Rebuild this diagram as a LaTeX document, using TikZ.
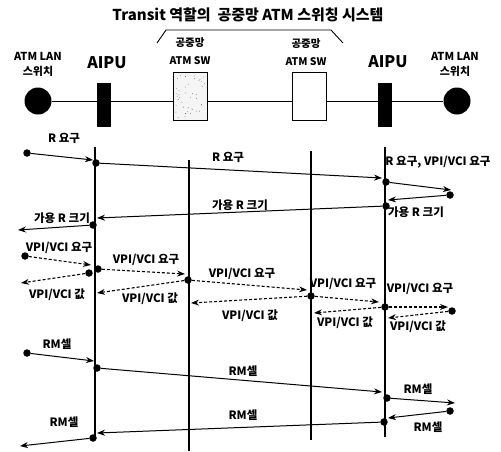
\documentclass[tikz,border=0pt]{standalone}
\usepackage{fontspec}
\setmainfont{Noto Sans CJK KR}
\usetikzlibrary{arrows.meta,calc}
\begin{document}
\begin{tikzpicture}[x=1pt,y=-1pt,
  dotn/.style={circle,fill=black,inner sep=0pt,minimum size=7.5pt},
  msg/.style={line width=1pt,-{Stealth[length=8pt,width=6pt]}},
  dmsg/.style={line width=1.1pt,dash pattern=on 3pt off 2pt,-{Stealth[length=8pt,width=6pt,line width=0pt,fill=black]}},
  life/.style={line width=1.4pt},
  lbl/.style={font=\fontsize{11.5}{12}\selectfont\bfseries,inner sep=0pt},
  toplbl/.style={font=\fontsize{11}{15}\selectfont\bfseries,inner sep=0pt,align=center},
  swlbl/.style={font=\fontsize{10.5}{18}\selectfont\bfseries,inner sep=0pt,align=center},
  aipu/.style={font=\fontsize{16}{18}\selectfont\bfseries,inner sep=0pt},
  term/.style={circle,fill=black,inner sep=0pt,minimum size=27pt},
  iwu/.style={rectangle,fill=black,inner sep=0pt,minimum width=14pt,minimum height=44pt},
  swbox/.style={rectangle,draw,line width=1pt,inner sep=0pt,minimum width=34pt,minimum height=48pt},
]
\useasboundingbox (0,0) rectangle (501,451);

% title and bracket
\node[font=\fontsize{15}{16}\selectfont\bfseries,inner sep=0pt] (title) at (248,15) {Transit 역할의\ \ 공중망 ATM 스위칭 시스템};
\draw[line width=0.9pt] (157,43) -- (166,30) -- (331,30) -- (343,43);

% top row
\node[term] (cl) at (38,101) {};
\node[term] (cr) at (457,101) {};
\node[iwu] (al) at (104,105) {};
\node[iwu] (ar) at (385,105) {};
\node[swbox,fill=gray!8] (s1) at (190.5,96) {};
\node[swbox,fill=white] (s2) at (309,96.5) {};
\pgfmathsetseed{7}
\foreach \i in {1,...,40} {
  \fill[black!70] ($(s1.south west)+(2+rnd*30,-2-rnd*44)$) circle (0.4pt);
}
\draw[line width=0.9pt] (cl.east) -- (al.west |- cl.east);
\draw[line width=0.9pt] (al.east |- cl.east) -- (s1.west |- cl.east);
\draw[line width=0.9pt] (s1.east |- cl.east) -- (s2.west |- cl.east);
\draw[line width=0.9pt] (s2.east |- cl.east) -- (ar.west |- cl.east);
\draw[line width=0.9pt] (ar.east |- cl.east) -- (cr.west);

\node[toplbl] (tl) at (38,64) {ATM LAN\\스위치};
\node[toplbl] (tr) at (455,64) {ATM LAN\\스위치};
\node[aipu] (pl) at (107,63) {AIPU};
\node[aipu] (pr) at (388,62) {AIPU};
\node[swlbl] (w1) at (190,51) {공중망\\ATM SW};
\node[swlbl] (w2) at (306,52) {공중망\\ATM SW};

% lifelines
\coordinate (L1t) at (95,147); \coordinate (L1b) at (95,438);
\coordinate (L2t) at (189,160); \coordinate (L2b) at (189,451);
\coordinate (L3t) at (311,151); \coordinate (L3b) at (311,440);
\coordinate (L4t) at (385,147); \coordinate (L4b) at (385,437);
\draw[life] (L1t) -- (L1b);
\draw[life] (L2t) -- (L2b);
\draw[life] (L3t) -- (L3b);
\draw[life] (L4t) -- (L4b);

% R request section
\node[dotn] (r1) at (27,153) {};
\coordinate (r1e) at (93,160);
\draw[msg] (r1) -- (r1e);
\node[lbl] (lr1) at (64,138) {R 요구};

\node[dotn] (r2) at (96,163) {};
\coordinate (r2e) at (382,178);
\draw[msg] (r2) -- (r2e);
\node[lbl] (lr2) at (228,157) {R 요구};

\node[dotn] (r3) at (386,182) {};
\coordinate (r3e) at (451,190);
\draw[msg] (r3) -- (r3e);
\node[lbl] (lr3) at (438,162) {R 요구, VPI/VCI 요구};

\node[dotn] (r4) at (450,195) {};
\coordinate (r4e) at (388,200);
\draw[msg] (r4) -- (r4e);
\node[lbl] (lr4) at (416,212) {가용 R 크기};

\node[dotn] (r5) at (386,206) {};
\coordinate (r5e) at (97,218);
\draw[msg] (r5) -- (r5e);
\node[lbl] (lr5) at (240,205) {가용 R 크기};

\node[dotn] (r6) at (93,225) {};
\coordinate (r6e) at (18,230);
\draw[msg] (r6) -- (r6e);
\node[lbl] (lr6) at (62,218) {가용 R 크기};

% VPI/VCI section
\node[dotn] (v1) at (25,256) {};
\coordinate (v1e) at (91,265);
\draw[dmsg] (v1) -- (v1e);
\node[lbl] (lv1) at (59,248) {VPI/VCI 요구};

\node[dotn] (v2) at (98,269) {};
\coordinate (v2e) at (185,274);
\draw[dmsg] (v2) -- (v2e);
\node[lbl] (lv2) at (146,260) {VPI/VCI 요구};

\node[dotn] (v3) at (89,273) {};
\coordinate (v3e) at (21,283);
\draw[dmsg] (v3) -- (v3e);
\node[lbl] (lv3) at (57,295) {VPI/VCI 값};

\node[dotn] (v4) at (188,280) {};
\coordinate (v4e) at (307,290);
\draw[dmsg] (v4) -- (v4e);
\node[lbl] (lv4) at (242,274) {VPI/VCI 요구};
\coordinate (v4r) at (97,293);
\draw[dmsg] (v4) -- (v4r);
\node[lbl] (lv4r) at (150,299) {VPI/VCI 값};

\node[dotn] (v5) at (311,296) {};
\coordinate (v5e) at (379,302);
\draw[dmsg] (v5) -- (v5e);
\node[lbl] (lv5) at (343,284) {VPI/VCI 요구};
\coordinate (v5r) at (191,303);
\draw[dmsg] (v5) -- (v5r);
\node[lbl] (lv5r) at (250,316) {VPI/VCI 값};

\node[dotn] (v6) at (385,307) {};
\coordinate (v6e) at (448,307);
\draw[dmsg] (v6) -- (v6e);
\node[lbl] (lv6) at (420,289) {VPI/VCI 요구};
\coordinate (v6r) at (314,313);
\draw[dmsg] (v6) -- (v6r);
\node[lbl] (lv6r) at (345,323) {VPI/VCI 값};

\node[dotn] (v7) at (452,311) {};
\coordinate (v7e) at (388,318);
\draw[dmsg] (v7) -- (v7e);
\node[lbl] (lv7) at (418,327) {VPI/VCI 값};

% RM cell section
\node[dotn] (m1) at (27,353) {};
\coordinate (m1e) at (94,361);
\draw[msg] (m1) -- (m1e);
\node[lbl] (lm1) at (57,344) {RM셀};

\node[dotn] (m2) at (97,368) {};
\coordinate (m2e) at (382,392);
\draw[msg] (m2) -- (m2e);
\node[lbl] (lm2) at (243,371) {RM셀};

\node[dotn] (m3) at (387,398) {};
\coordinate (m3e) at (455,403);
\draw[msg] (m3) -- (m3e);
\node[lbl] (lm3) at (418,389) {RM셀};

\node[dotn] (m4) at (450,411) {};
\coordinate (m4e) at (388,418);
\draw[msg] (m4) -- (m4e);
\node[lbl] (lm4) at (428,427) {RM셀};

\node[dotn] (m5) at (384,422) {};
\coordinate (m5e) at (97,433);
\draw[msg] (m5) -- (m5e);
\node[lbl] (lm5) at (243,415) {RM셀};

\node[dotn] (m6) at (93,438) {};
\coordinate (m6e) at (20,446);
\draw[msg] (m6) -- (m6e);
\node[lbl] (lm6) at (64,422) {RM셀};
\end{tikzpicture}
\end{document}
